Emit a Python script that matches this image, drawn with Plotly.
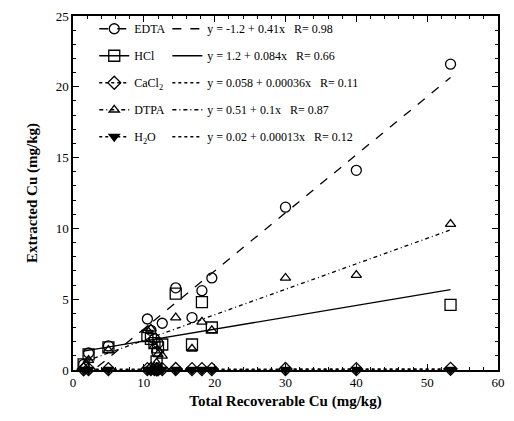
import plotly.graph_objects as go

# ---- data ----
total_cu = [1.5, 2.2, 5.0, 10.5, 11.0, 11.5, 11.8, 12.0, 12.6, 14.5, 16.8, 18.2, 19.6, 30.0, 40.0, 53.3]
edta  = [0.4, 1.2, 1.7, 3.6, 2.8, 2.2, 1.3, 1.9, 3.3, 5.8, 3.7, 5.6, 6.5, 11.5, 14.1, 21.6]
hcl   = [0.4, 1.1, 1.6, 2.4, 2.2, 1.9, 0.6, 1.6, 1.8, 5.4, 1.8, 4.8, 3.0, None, None, 4.6]
cacl2 = [0.05, 0.06, 0.06, 0.06, 0.07, 0.06, 0.05, 0.05, 0.06, 0.07, 0.06, 0.06, 0.06, 0.07, 0.06, 0.08]
dtpa  = [0.2, 0.7, 1.4, 2.8, 2.9, 1.7, 0.5, 1.1, 1.0, 3.7, 1.5, 3.4, 2.8, 6.5, 6.7, 10.3]
h2o   = [0.02, 0.02, 0.02, 0.03, 0.02, 0.02, 0.02, 0.02, 0.03, 0.02, 0.02, 0.03, 0.02, 0.02, 0.03, 0.03]

names      = ["EDTA", "HCl", "CaCl<sub>2</sub>", "DTPA", "H<sub>2</sub>O"]
series     = [edta, hcl, cacl2, dtpa, h2o]
# regression lines as drawn in the figure
line_intercepts = [-1.2, 1.2, 0.058, 0.3, 0.02]
line_slopes     = [0.41, 0.084, 0.00036, 0.18, 0.00013]
eq_labels  = ["y = -1.2 + 0.41x   R= 0.98",
              "y = 1.2 + 0.084x   R= 0.66",
              "y = 0.058 + 0.00036x   R= 0.11",
              "y = 0.51 + 0.1x   R= 0.87",
              "y = 0.02 + 0.00013x   R= 0.12"]
x_ticks = [0, 10, 20, 30, 40, 50, 60]
y_ticks = [0, 5, 10, 15, 20, 25]

# ---- styles ----
symbols = ["circle-open", "square-open", "diamond-open", "triangle-up-open", "triangle-down"]
sizes   = [10, 11, 10, 9, 9]
dashes  = ["dash", "solid", "dot", "4px,3px,1px,3px", "dot"]
FONT = "Liberation Serif, Times New Roman, serif"

fig = go.Figure()
x_fit = [min(total_cu), max(total_cu)]
for i in range(5):
    fig.add_trace(go.Scatter(
        x=x_fit, y=[line_intercepts[i] + line_slopes[i] * v for v in x_fit],
        mode="lines", line=dict(color="black", width=1.3, dash=dashes[i]),
        name=eq_labels[i], legend="legend2", legendgroup="f%d" % i,
        hoverinfo="skip"))
    fig.add_trace(go.Scatter(
        x=total_cu, y=series[i], mode="markers",
        marker=dict(symbol=symbols[i], size=sizes[i], color="black",
                    line=dict(color="black", width=1.3)),
        showlegend=False, cliponaxis=False, name=names[i]))
    fig.add_trace(go.Scatter(
        x=[None], y=[None], mode="lines+markers",
        marker=dict(symbol=symbols[i], size=sizes[i], color="black",
                    line=dict(color="black", width=1.3)),
        line=dict(color="black", width=1.3, dash=dashes[i]),
        name=names[i], legend="legend", legendgroup="d%d" % i))

axis_common = dict(
    showline=True, linecolor="black", linewidth=1.5, mirror="ticks",
    ticks="inside", ticklen=6, tickwidth=1.2, tickcolor="black",
    showgrid=False, zeroline=False,
    tickfont=dict(family=FONT, size=13, color="black"),
)

fig.update_layout(
    width=514, height=421,
    margin=dict(l=73, r=9, t=15, b=51),
    paper_bgcolor="white", plot_bgcolor="white",
    font=dict(family=FONT, color="black"),
    xaxis=dict(range=[0, 60], tickvals=x_ticks,
               minor=dict(dtick=2, ticks="inside", ticklen=3, tickcolor="black"),
               title=dict(text="<b>Total Recoverable Cu (mg/kg)</b>",
                          font=dict(family=FONT, size=15), standoff=6),
               **axis_common),
    yaxis=dict(range=[0, 25], tickvals=y_ticks,
               minor=dict(dtick=1, ticks="inside", ticklen=3, tickcolor="black"),
               title=dict(text="<b>Extracted Cu (mg/kg)</b>",
                          font=dict(family=FONT, size=15), standoff=14),
               **axis_common),
    legend=dict(x=0.05, y=1.005, xanchor="left", yanchor="top",
                bgcolor="rgba(0,0,0,0)", font=dict(family=FONT, size=12),
                tracegroupgap=8, itemwidth=30),
    legend2=dict(x=0.222, y=1.005, xanchor="left", yanchor="top",
                 bgcolor="rgba(0,0,0,0)", font=dict(family=FONT, size=12),
                 tracegroupgap=8, itemwidth=30),
    showlegend=True,
)

fig.write_html("out.html")
